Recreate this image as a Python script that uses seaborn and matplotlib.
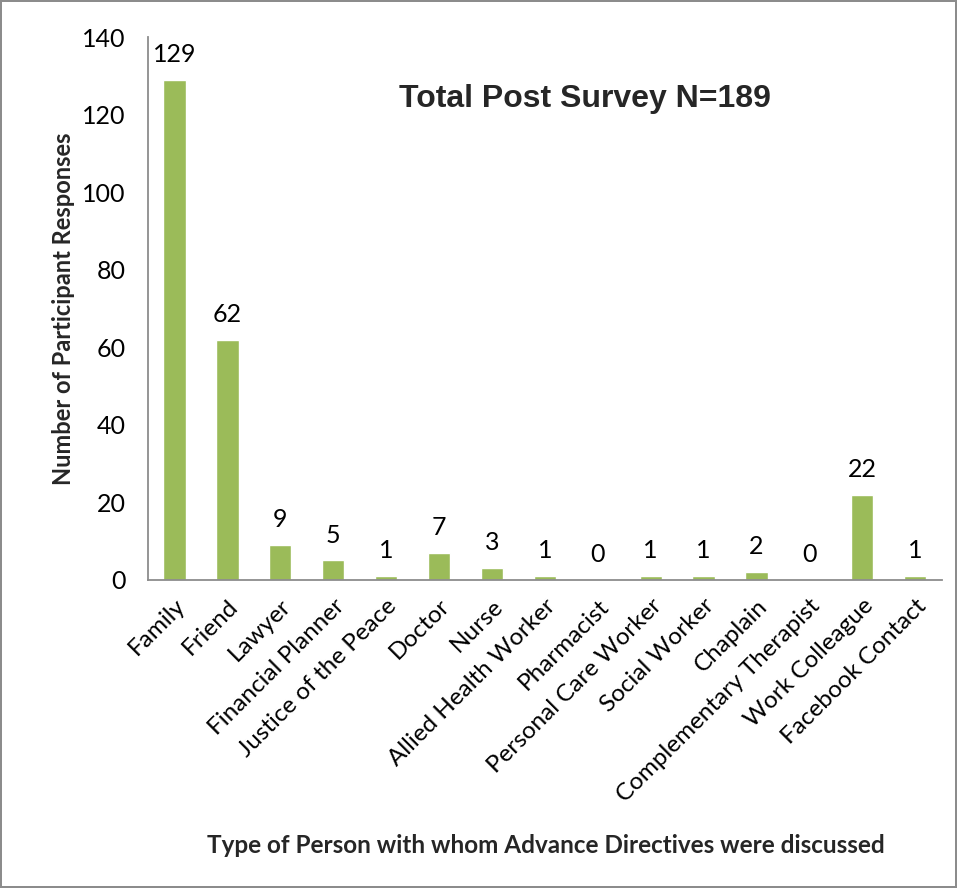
import matplotlib
matplotlib.use("Agg")
import matplotlib.pyplot as plt
import seaborn as sns
import pandas as pd
import numpy as np

categories = ["Family", "Friend", "Lawyer", "Financial Planner", "Justice of the Peace",
              "Doctor", "Nurse", "Allied Health Worker", "Pharmacist", "Personal Care Worker",
              "Social Worker", "Chaplain", "Complementary Therapist", "Work Colleague",
              "Facebook Contact"]
values = [129, 62, 9, 5, 1, 7, 3, 1, 0, 1, 1, 2, 0, 22, 1]
y_ticks = [0, 20, 40, 60, 80, 100, 120, 140]

sns.set_style("white")
plt.rcParams['font.family'] = ['Lato', 'DejaVu Sans']

df = pd.DataFrame({"cat": categories, "val": values})

fig = plt.figure(figsize=(9.57, 8.88), dpi=100, edgecolor="#8c8c8c", linewidth=1.5)
ax = fig.add_axes([0.1547, 0.347, 0.984 - 0.1547, 0.958 - 0.347])

sns.barplot(data=df, x="cat", y="val", color="#9BBB59", saturation=1, width=0.42, ax=ax)

ax.set_ylim(0, 140)
ax.set_xlim(-0.5, len(categories) - 0.5)
ax.set_yticks(y_ticks)
ax.set_yticklabels([str(t) for t in y_ticks], fontsize=18)
ax.set_xticks(range(len(categories)))
ax.set_xticklabels(categories, rotation=45, ha="right", rotation_mode="anchor", fontsize=17.5)
ax.set_xticks(np.arange(-0.5, len(categories), 1.0), minor=True)
ax.tick_params(axis="x", which="major", length=0, pad=11)
ax.tick_params(axis="x", which="minor", length=6, width=1.3, color="#8c8c8c", direction="out")
ax.tick_params(axis="y", length=6, width=1.3, color="#8c8c8c", direction="out", pad=10)
ax.tick_params(axis="both", labelcolor="black")

for s in ["top", "right"]:
    ax.spines[s].set_visible(False)
for s in ["left", "bottom"]:
    ax.spines[s].set_color("#8c8c8c")
    ax.spines[s].set_linewidth(1.3)

for i, v in enumerate(values):
    ax.text(i, v + 3.6, str(v), ha="center", va="bottom", fontsize=18, color="black")

ax.set_xlabel("")
ax.set_ylabel("Number of Participant Responses", fontsize=17, fontweight="bold", labelpad=5)
fig.text(0.57, 0.0484, "Type of Person with whom Advance Directives were discussed",
         ha="center", va="center", fontsize=17.5, fontweight="bold")
fig.text(0.611, 0.889, "Total Post Survey N=189", ha="center", va="center",
         fontsize=23, fontweight="bold", family=["Liberation Sans", "DejaVu Sans"])

fig.savefig("out.png", dpi=100, edgecolor=fig.get_edgecolor())
